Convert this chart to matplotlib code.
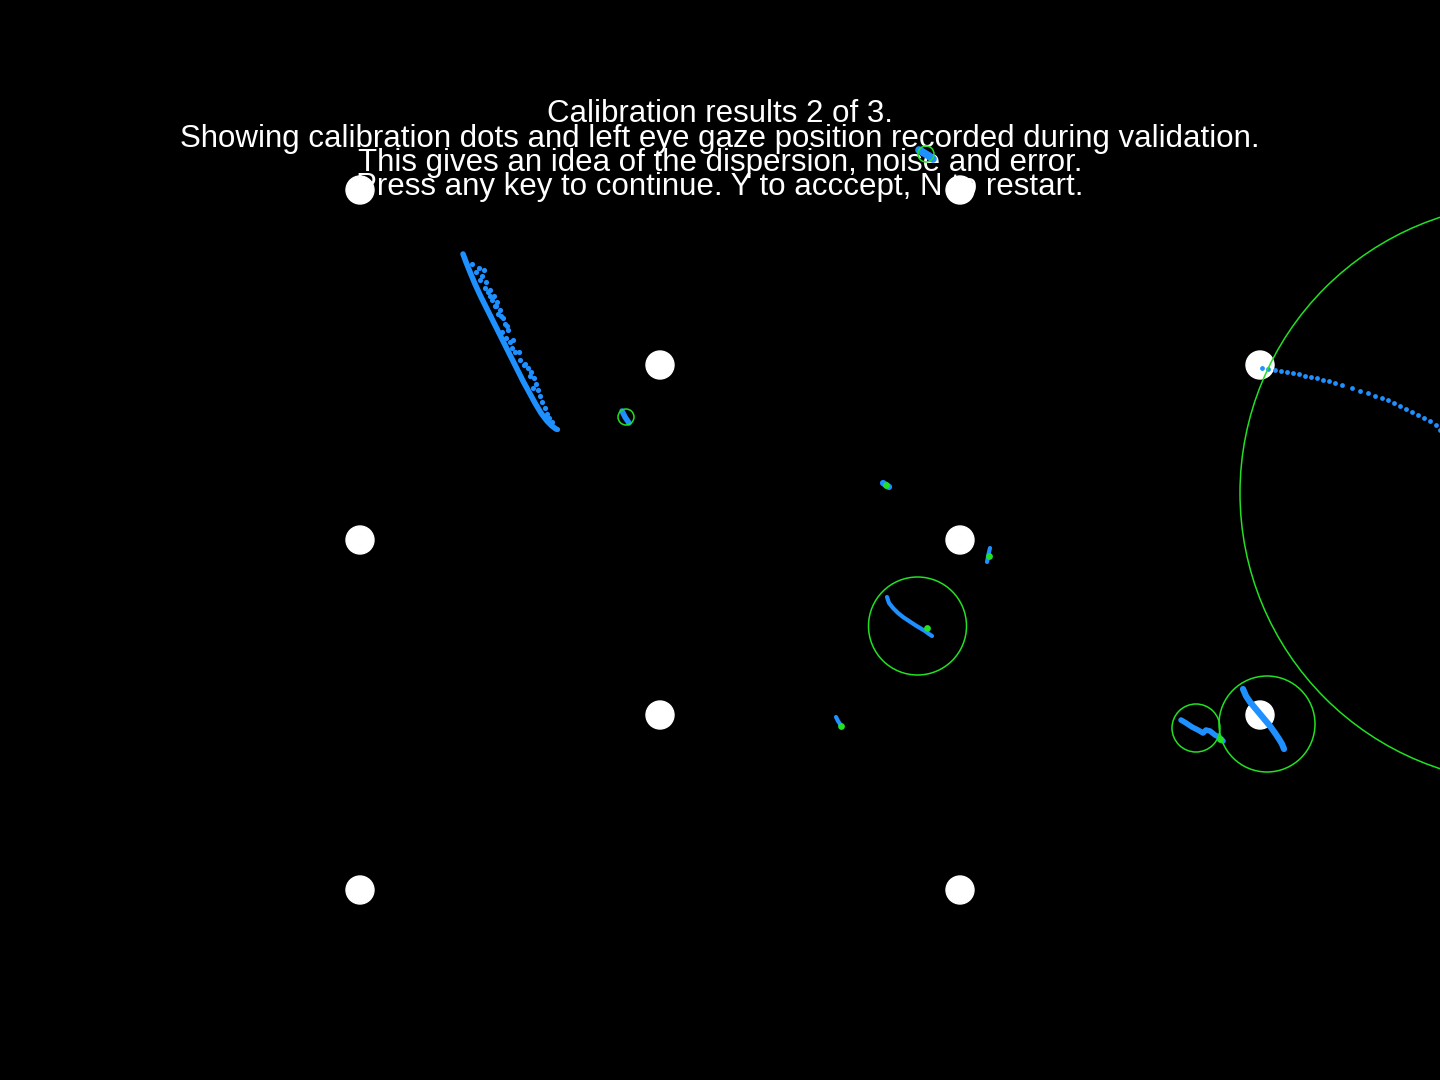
import matplotlib
matplotlib.use('Agg')
import matplotlib.pyplot as plt
from matplotlib.patches import Circle

# screen is 1440x1080 px, coordinates in pixels from top-left
W, H = 1440, 1080

title_lines = ['Calibration results 2 of 3.',
               'Showing calibration dots and left eye gaze position recorded during validation.',
               'This gives an idea of the dispersion, noise and error.',
               'Press any key to continue. Y to acccept, N to restart.']
title_y = [114, 139, 163, 187]

# calibration targets
dot_x = [360, 960, 660, 1260, 360, 960, 660, 1260, 360, 960]
dot_y = [190, 190, 365, 365, 540, 540, 715, 715, 890, 890]
dot_r = 14

# gaze traces (blue)
t1_x = [463, 466, 470, 475, 481, 487, 493, 499, 505, 511, 517, 523, 529, 535, 541, 547, 552, 556]
t1_y = [254, 262, 272, 284, 297, 309, 321, 333, 345, 357, 369, 381, 392, 403, 413, 421, 426, 429]
t1_sx = [482, 486, 490, 494, 497, 500, 503, 505, 508, 502, 506, 510, 498, 492, 488, 515, 520, 524,
         528, 531, 534, 536, 538, 533, 540, 542, 545, 547, 549, 552, 557, 484, 479, 495, 512,
         472, 476, 480, 485, 490, 496, 501, 507, 513, 519, 525, 530]
t1_sy = [276, 282, 290, 296, 302, 310, 318, 324, 330, 332, 338, 342, 314, 300, 292, 352, 360, 365,
         368, 372, 378, 384, 390, 388, 396, 402, 408, 414, 418, 422, 429, 270, 268, 306, 348,
         264, 272, 280, 288, 296, 306, 316, 326, 340, 352, 364, 376]

t2_x = [1262, 1268, 1275, 1281, 1287, 1293, 1299, 1305, 1311, 1317, 1323, 1329, 1335, 1342, 1352,
        1360, 1368, 1375, 1382, 1388, 1394, 1400, 1406, 1412, 1418, 1424, 1430, 1436, 1440]
t2_y = [368, 369, 370, 371, 372, 373, 374, 376, 377, 378, 380, 381, 383, 385, 388,
        391, 393, 396, 398, 400, 403, 406, 409, 412, 415, 418, 421, 425, 430]

t3_x = [887, 889, 893, 898, 903, 909, 915, 920, 925, 929, 932]
t3_y = [597, 603, 608, 613, 617, 621, 625, 628, 631, 634, 636]
t4_x = [1243, 1246, 1250, 1255, 1260, 1265, 1270, 1275, 1279, 1282, 1284]
t4_y = [689, 696, 702, 708, 714, 720, 726, 733, 739, 744, 749]
t5_x = [1181, 1186, 1192, 1198, 1203, 1206, 1210, 1215, 1219, 1223]
t5_y = [720, 723, 727, 730, 733, 730, 731, 735, 737, 741]
t6_x = [622, 625, 629]
t6_y = [411, 417, 423]
t7_x = [919, 924, 929, 933]
t7_y = [150, 153, 156, 159]
t8_x = [883, 886, 889]
t8_y = [483, 485, 487]
t9_x = [990, 989, 988, 987]
t9_y = [548, 552, 557, 562]
t10_x = [836, 838, 842]
t10_y = [717, 721, 727]

# mean gaze positions (green) and dispersion rings
mean_x = [927, 1220, 886, 989, 841]
mean_y = [628, 739, 485, 556, 726]
ring_x = [1530, 917.5, 1267, 1196, 626, 926]
ring_y = [493, 626, 724, 728, 417, 154]
ring_r = [290, 49, 48, 24, 8, 8]

blue = '#1e90ff'
green = '#22e022'

fig = plt.figure(figsize=(14.4, 10.8), dpi=100, facecolor='black')
ax = fig.add_axes([0, 0, 1, 1])
ax.set_facecolor('black')
ax.set_xlim(0, W)
ax.set_ylim(H, 0)
ax.axis('off')

for s, y in zip(title_lines, title_y):
    ax.text(720, y, s, color='white', ha='center', va='center',
            fontsize=22.5, family='Liberation Sans')

for x, y in zip(dot_x, dot_y):
    ax.add_patch(Circle((x, y), dot_r, color='white', zorder=2))

traces = [(t1_x, t1_y, 4), (t3_x, t3_y, 3), (t4_x, t4_y, 4.5), (t5_x, t5_y, 4),
          (t6_x, t6_y, 4), (t7_x, t7_y, 5.5), (t8_x, t8_y, 4.5), (t9_x, t9_y, 3), (t10_x, t10_y, 3)]
for xs, ys, lw in traces:
    ax.plot(xs, ys, color=blue, lw=lw, solid_capstyle='round', zorder=3)
ax.scatter(t1_sx, t1_sy, s=14, color=blue, lw=0, zorder=3)
ax.scatter(t2_x, t2_y, s=12, color=blue, lw=0, zorder=3)

ax.scatter(mean_x, mean_y, s=24, color=green, lw=0, zorder=4)
for x, y, r in zip(ring_x, ring_y, ring_r):
    ax.add_patch(Circle((x, y), r, fill=False, ec=green, lw=1.1, zorder=4))

fig.savefig('out.png', dpi=100, facecolor='black')
